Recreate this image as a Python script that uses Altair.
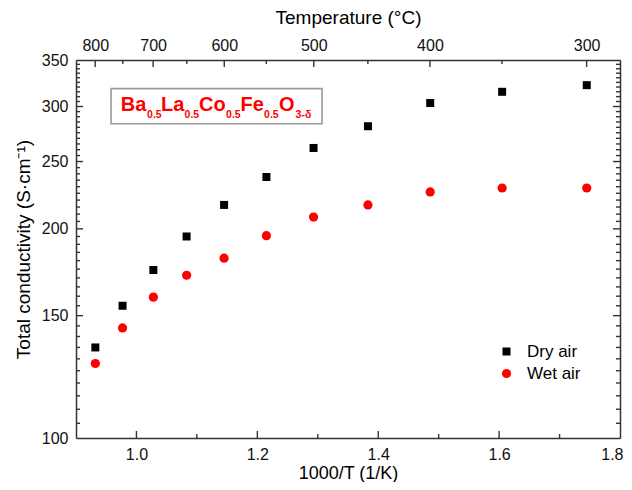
import altair as alt
import pandas as pd

# ---------------- data ----------------
inv_T = [0.932, 0.977, 1.028, 1.083, 1.145, 1.215, 1.293, 1.383, 1.486, 1.605, 1.745]
dry_air = [135, 155, 174.5, 195, 216.5, 237.5, 261.5, 281, 303.5, 315, 322]
wet_air = [128, 144, 159.5, 171.5, 181.5, 195.5, 208, 216.5, 226, 229, 229]
series_names = ["Dry air", "Wet air"]

x_major = [1.0, 1.2, 1.4, 1.6, 1.8]
x_minor = [1.1, 1.3, 1.5, 1.7]
y_major = [150, 200, 250, 300]
y_minor = [v for v in range(105, 350, 5) if v % 50 != 0]
temp_major = [800, 700, 600, 500, 400, 300]
temp_minor = [750, 650, 550, 450, 350]

formula_main = ["Ba", "La", "Co", "Fe", "O"]
formula_sub = ["0.5", "0.5", "0.5", "0.5", "3-δ"]

# ---------------- layout / style ----------------
FONT = "Liberation Sans"
W, H = 544, 378
MAJOR, MINOR = 7, 4
TICK_COLOR = "#333333"
main_dx = [9.7, 50, 88, 129.5, 168]
sub_dx = [36, 73.5, 115, 153, 184.5]

df = pd.DataFrame({
    "x": inv_T * 2,
    "value": dry_air + wet_air,
    "series": [series_names[0]] * len(inv_T) + [series_names[1]] * len(inv_T),
})
box_df = pd.DataFrame({"x1": [0.958], "x2": [1.307], "y1": [283.4], "y2": [318.3]})
text_anchor = {"x": 0.958, "y": 296.0}

xscale = alt.Scale(domain=[0.9, 1.8], nice=False, zero=False)
yscale = alt.Scale(type="log", domain=[100, 350], nice=False)

common = dict(labelFont=FONT, titleFont=FONT, labelColor="#111", titleColor="#000",
              domainColor="#333", domainWidth=1.5, ticks=False,
              grid=False, titleFontWeight="normal", labelOverlap=False,
              labelFontSize=16)


def to_pos(t):
    return 1000.0 / (t + 273.15)


bottom_axis = alt.Axis(orient="bottom", values=[0.9] + x_major, format=".1f",
                       labelExpr="datum.value < 0.95 ? '' : datum.label",
                       labelFlush=True, labelFlushOffset=3, labelPadding=8,
                       title="1000/T (1/K)", titleFontSize=18, titleBaseline="alphabetic",
                       titleY=40, **common)
left_axis = alt.Axis(orient="left", values=[100] + y_major + [350], format="d", labelFlush=False,
                     labelPadding=8, title="Total conductivity (S·cm⁻¹)", titleFontSize=19,
                     titlePadding=8, **common)
top_axis = alt.Axis(orient="top", values=[to_pos(t) for t in temp_major], labelFlush=False,
                    labelExpr="format(1000/datum.value - 273.15, '.0f')",
                    labelPadding=7, title="Temperature (°C)", titleFontSize=19,
                    titlePadding=10, **common)
right_axis = alt.Axis(orient="right", values=y_major, labels=False, title=None, **common)

base = alt.Chart(df)

points = base.mark_point(filled=True, opacity=1).encode(
    x=alt.X("x:Q", scale=xscale, axis=bottom_axis),
    y=alt.Y("value:Q", scale=yscale, axis=left_axis),
    shape=alt.Shape("series:N", scale=alt.Scale(domain=series_names, range=["square", "circle"]),
                    legend=alt.Legend(orient="none", legendX=422, legendY=283, title=None,
                                      labelFont=FONT, labelFontSize=17, labelColor="#000",
                                      labelOffset=12, rowPadding=4, padding=0)),
    color=alt.Color("series:N", scale=alt.Scale(domain=series_names, range=["#000000", "#ff0000"])),
    size=alt.Size("series:N", scale=alt.Scale(domain=series_names, range=[64, 85])),
)

top_right = base.mark_point(opacity=0).encode(
    x=alt.X("x:Q", scale=xscale, axis=top_axis),
    y=alt.Y("value:Q", scale=yscale, axis=right_axis),
)


# inward tick marks, placed by the shared scales
def xticks(vals, y0, y1):
    return alt.Chart(pd.DataFrame({"v": vals})).mark_rule(color=TICK_COLOR, strokeWidth=1.4).encode(
        x=alt.X("v:Q", scale=xscale, axis=None), y=alt.value(y0), y2=alt.value(y1))


def yticks(vals, x0, x1):
    return alt.Chart(pd.DataFrame({"v": vals})).mark_rule(color=TICK_COLOR, strokeWidth=1.4).encode(
        y=alt.Y("v:Q", scale=yscale, axis=None), x=alt.value(x0), x2=alt.value(x1))


tick_layers = [
    xticks(x_major[:-1], H, H - MAJOR),
    xticks(x_minor, H, H - MINOR),
    xticks([to_pos(t) for t in temp_major], 0, MAJOR),
    xticks([to_pos(t) for t in temp_minor], 0, MINOR),
    yticks(y_major, 0, MAJOR),
    yticks(y_minor, 0, MINOR),
    yticks(y_major, W, W - MAJOR),
    yticks(y_minor, W, W - MINOR),
]

box = alt.Chart(box_df).mark_rect(fill="white", stroke="#9a9a9a", strokeWidth=1.6).encode(
    x=alt.X("x1:Q", scale=xscale, axis=None),
    x2="x2:Q",
    y=alt.Y("y1:Q", scale=yscale, axis=None),
    y2="y2:Q",
)

text_layers = []
anchor_df = pd.DataFrame([text_anchor])
for s, dx in zip(formula_main, main_dx):
    text_layers.append(
        alt.Chart(anchor_df).mark_text(text=s, align="left", baseline="alphabetic", dx=dx,
                                       font=FONT, fontSize=20, fontWeight="bold", color="#ff0000")
        .encode(x=alt.X("x:Q", scale=xscale, axis=None), y=alt.Y("y:Q", scale=yscale, axis=None))
    )
for s, dx in zip(formula_sub, sub_dx):
    text_layers.append(
        alt.Chart(anchor_df).mark_text(text=s, align="left", baseline="alphabetic", dx=dx, dy=7.7,
                                       font=FONT, fontSize=10.5, fontWeight="bold", color="#ff0000")
        .encode(x=alt.X("x:Q", scale=xscale, axis=None), y=alt.Y("y:Q", scale=yscale, axis=None))
    )

chart = alt.layer(top_right, *tick_layers, box, *text_layers, points).resolve_axis(
    x="independent", y="independent"
).properties(
    width=W, height=H,
    autosize=alt.AutoSizeParams(type="none"),
    padding={"left": 68, "top": 52, "right": 4, "bottom": 44},
).configure_view(stroke=None).configure(background="white")

chart.save("out.html", embed_options={"renderer": "svg", "actions": False})
